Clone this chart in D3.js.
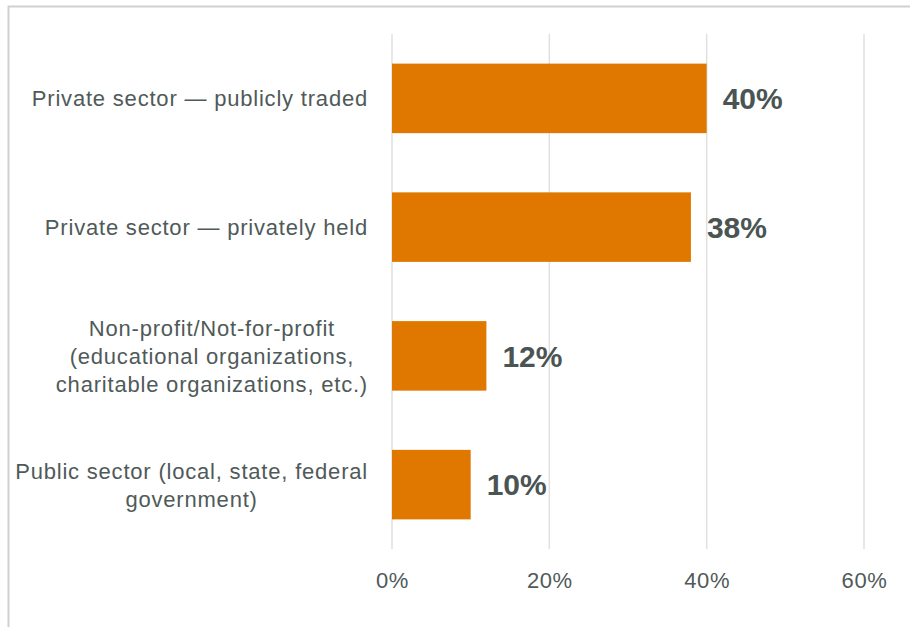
<!DOCTYPE html>
<html>
<head>
<meta charset="utf-8">
<script src="https://cdn.jsdelivr.net/npm/d3@7"></script>
<style>
  html, body { margin: 0; padding: 0; background: #ffffff; }
  svg { display: block; font-family: "Liberation Sans", Arial, sans-serif; }
</style>
</head>
<body>
<svg id="chart" width="910" height="627"></svg>
<script>
// Organisation type shares
const categories = [
  ["Private sector \u2014 publicly traded"],
  ["Private sector \u2014 privately held"],
  ["Non-profit/Not-for-profit", "(educational organizations,", "charitable organizations, etc.)"],
  ["Public sector (local, state, federal", "government)"]
];
const values = [0.40, 0.38, 0.12, 0.10];
const valueLabels = ["40%", "38%", "12%", "10%"];
const tickValues = [0, 0.2, 0.4, 0.6];
const tickLabels = ["0%", "20%", "40%", "60%"];

const svg = d3.select("#chart");
const W = 910, H = 627;

// outer chart frame
svg.append("rect")
  .attr("x", 8.5).attr("y", 6.5)
  .attr("width", W + 10).attr("height", H + 10)
  .attr("fill", "#ffffff")
  .attr("stroke", "#d0d0d0")
  .attr("stroke-width", 2);

const plotTop = 34, plotBottom = 549;
const x = d3.scaleLinear().domain([0, 0.6]).range([392, 864]);
const y = d3.scaleBand()
  .domain(d3.range(categories.length))
  .range([plotTop, plotBottom])
  .paddingInner(0.46)
  .paddingOuter(0.23);

// vertical gridlines
svg.append("g").selectAll("line")
  .data(tickValues)
  .join("line")
  .attr("x1", d => x(d)).attr("x2", d => x(d))
  .attr("y1", plotTop).attr("y2", plotBottom)
  .attr("stroke", "#e0e0e0")
  .attr("stroke-width", 1.5);

// x axis labels
const xAxis = d3.axisBottom(x)
  .tickValues(tickValues)
  .tickFormat((d, i) => tickLabels[i])
  .tickSize(0)
  .tickPadding(0);
const gx = svg.append("g")
  .attr("transform", `translate(0,${plotBottom})`)
  .call(xAxis);
gx.select(".domain").remove();
gx.selectAll("text")
  .attr("dy", null)
  .attr("y", 39)
  .attr("fill", "#4f5a59")
  .style("font-size", "22px")
  .style("letter-spacing", "0.6px")
  .style("font-family", "'Liberation Sans', Arial, sans-serif");

// bars
svg.append("g").selectAll("rect")
  .data(values)
  .join("rect")
  .attr("x", x(0))
  .attr("y", (d, i) => y(i))
  .attr("width", d => x(d) - x(0))
  .attr("height", y.bandwidth())
  .attr("fill", "#e07800");

// value labels
svg.append("g").selectAll("text")
  .data(values)
  .join("text")
  .attr("x", d => x(d) + 16)
  .attr("y", (d, i) => y(i) + y.bandwidth() / 2)
  .attr("dy", "0.36em")
  .attr("fill", "#4a5453")
  .style("font-size", "30px")
  .style("font-weight", "bold")
  .text((d, i) => valueLabels[i]);

// category labels: each block centred on its widest line, right-aligned to the axis
const labelRight = 368, lineH = 28;
categories.forEach((lines, i) => {
  const cy = y(i) + y.bandwidth() / 2;
  const t = svg.append("text")
    .attr("fill", "#4f5a59")
    .attr("text-anchor", "middle")
    .style("font-size", "22px")
    .style("letter-spacing", "0.8px");
  lines.forEach((ln, j) => {
    t.append("tspan")
      .attr("y", cy + (j - (lines.length - 1) / 2) * lineH)
      .attr("dy", "0.36em")
      .text(ln);
  });
  let maxW = 0;
  t.selectAll("tspan").each(function () {
    maxW = Math.max(maxW, this.getComputedTextLength());
  });
  t.selectAll("tspan").attr("x", labelRight - maxW / 2);
});
</script>
</body>
</html>
